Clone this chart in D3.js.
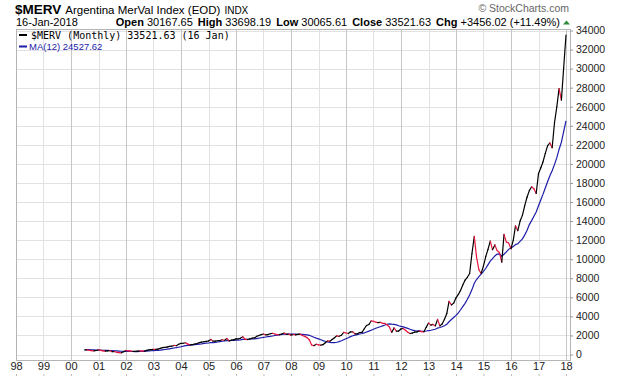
<!DOCTYPE html>
<html>
<head>
<meta charset="utf-8">
<script src="https://cdn.jsdelivr.net/npm/d3@7"></script>
<style>
  body { margin: 0; background: #fff; }
  svg { display: block; font-family: "Liberation Sans", Arial, sans-serif; }
</style>
</head>
<body>
<svg id="chart" width="620" height="376"></svg>
<script>
// first monthly bar is Jul 2000, last is Jan 2018 (16 Jan)
const firstYear = 2000, firstMonth = 6;

// $MERV monthly closes
const closes = [
  /* 2000 */ 470, 480, 440, 400, 390, 420,
  /* 2001 */ 480, 430, 380, 360, 390, 400, 300, 310, 230, 200, 180, 290,
  /* 2002 */ 420, 380, 370, 330, 340, 350, 380, 370, 360, 440, 480, 520,
  /* 2003 */ 540, 530, 560, 640, 720, 750, 770, 850, 870, 950, 920, 1070,
  /* 2004 */ 1170, 1180, 1230, 1090, 1010, 1040, 1100, 1150, 1240, 1290, 1340, 1375,
  /* 2005 */ 1420, 1580, 1400, 1410, 1440, 1470, 1550, 1480, 1680, 1420, 1500, 1540,
  /* 2006 */ 1640, 1650, 1710, 1860, 1620, 1570, 1630, 1710, 1740, 1900, 1990, 2090,
  /* 2007 */ 2150, 2060, 2080, 2180, 2230, 2150, 2090, 2080, 2150, 2250, 2110, 2150,
  /* 2008 */ 2030, 2100, 2060, 2120, 2140, 2000, 1900, 1770, 1550, 1000, 930, 1080,
  /* 2009 */ 1010, 980, 1030, 1240, 1420, 1400, 1580, 1760, 1960, 1910, 2020, 2320,
  /* 2010 */ 2260, 2200, 2380, 2380, 2160, 2180, 2310, 2320, 2700, 3050, 3150, 3520,
  /* 2011 */ 3490, 3390, 3350, 3380, 3270, 3260, 3120, 2870, 2330, 2790, 2460, 2460,
  /* 2012 */ 2680, 2730, 2540, 2340, 2200, 2250, 2350, 2360, 2480, 2400, 2380, 2850,
  /* 2013 */ 3300, 3080, 3160, 3000, 3680, 3000, 3200, 3700, 4310, 5580, 5200, 5390,
  /* 2014 */ 5950, 6300, 6700, 7300, 7800, 8100, 8500, 10600, 12400, 10200, 8900, 8500,
  /* 2015 */ 9300, 10300, 11000, 11900, 11000, 11500, 10900, 10700, 9700, 12600, 11800, 11700,
  /* 2016 */ 11100, 12000, 13500, 13000, 14000, 14600, 15600, 16500, 17200, 17600, 17400, 16900,
  /* 2017 */ 19000, 19600, 20200, 21100, 21900, 22200, 21700, 24300, 26000, 27900, 26700, 30065,
  /* 2018 */ 33521.63
];

// MA(12) of the closes, as drawn
const ma12 = [
  /* 2000 */ 509, 509, 504, 494, 483, 472,
  /* 2001 */ 465, 456, 443, 432, 428, 420, 406, 392, 374, 357, 340, 329,
  /* 2002 */ 324, 320, 319, 316, 312, 308, 315, 320, 331, 351, 376, 395,
  /* 2003 */ 405, 418, 433, 459, 491, 524, 557, 597, 639, 682, 718, 764,
  /* 2004 */ 817, 871, 927, 964, 988, 1013, 1040, 1065, 1096, 1124, 1159, 1185,
  /* 2005 */ 1205, 1239, 1253, 1280, 1315, 1351, 1389, 1416, 1453, 1464, 1477, 1491,
  /* 2006 */ 1509, 1515, 1541, 1578, 1593, 1602, 1608, 1628, 1633, 1673, 1713, 1759,
  /* 2007 */ 1802, 1836, 1867, 1893, 1944, 1993, 2031, 2062, 2096, 2125, 2135, 2140,
  /* 2008 */ 2130, 2133, 2132, 2127, 2119, 2107, 2091, 2065, 2015, 1911, 1813, 1723,
  /* 2009 */ 1638, 1545, 1459, 1386, 1326, 1276, 1249, 1248, 1283, 1358, 1449, 1553,
  /* 2010 */ 1657, 1758, 1871, 1966, 2028, 2093, 2153, 2200, 2262, 2357, 2451, 2551,
  /* 2011 */ 2653, 2753, 2833, 2917, 3009, 3099, 3167, 3213, 3182, 3160, 3103, 3014,
  /* 2012 */ 2947, 2892, 2824, 2738, 2648, 2564, 2500, 2458, 2470, 2438, 2431, 2463,
  /* 2013 */ 2515, 2544, 2596, 2651, 2774, 2837, 2908, 3019, 3172, 3437, 3672, 3883,
  /* 2014 */ 4104, 4373, 4668, 5026, 5369, 5794, 6236, 6811, 7485, 7870, 8178, 8438,
  /* 2015 */ 8717, 9050, 9408, 9792, 10058, 10342, 10542, 10550, 10325, 10525, 10767, 11033,
  /* 2016 */ 11183, 11325, 11533, 11625, 11875, 12133, 12525, 13008, 13633, 14050, 14517, 14950,
  /* 2017 */ 15608, 16242, 16800, 17475, 18133, 18767, 19275, 19925, 20658, 21517, 22292, 23389,
  /* 2018 */ 24527.62
];

const yearLabels = ["98","99","00","01","02","03","04","05","06","07","08",
                    "09","10","11","12","13","14","15","16","17","18"];
const priceTicks = [0, 2000, 4000, 6000, 8000, 10000, 12000, 14000, 16000,
                    18000, 20000, 22000, 24000, 26000, 28000, 30000, 32000, 34000];

const svg = d3.select("#chart");
const L = 16, R = 570, T = 29, B = 360;

const x = d3.scaleTime()
  .domain([new Date(1998, 0, 1), new Date(2018, 0, 1)])
  .range([16, 566]);
const y = d3.scaleLinear()
  .domain([0, 34000])
  .range([354.5, 30.5]);

const monthDate = i => new Date(firstYear, firstMonth + i, 1);
const yearDates = yearLabels.map((d, i) => new Date(1998 + i, 0, 1));

// grid
svg.append("g")
  .selectAll("line")
  .data(priceTicks)
  .enter().append("line")
    .attr("x1", L).attr("x2", R)
    .attr("y1", d => Math.round(y(d)) + 0.5)
    .attr("y2", d => Math.round(y(d)) + 0.5)
    .attr("stroke", "#e2e2e2");

svg.append("g")
  .selectAll("line")
  .data(yearDates.slice(1))
  .enter().append("line")
    .attr("x1", d => Math.round(x(d)) + 0.5)
    .attr("x2", d => Math.round(x(d)) + 0.5)
    .attr("y1", T).attr("y2", B)
    .attr("stroke", d => d.getFullYear() % 2 == 0 ? "#c6c6c6" : "#e2e2e2");

svg.append("rect")
  .attr("x", L + 0.5).attr("y", T + 0.5)
  .attr("width", R - L).attr("height", B - T)
  .attr("fill", "none")
  .attr("stroke", "#b4b4b4");

// axes
const yAxis = svg.append("g")
  .attr("transform", `translate(${R},0)`)
  .call(d3.axisRight(y).tickValues(priceTicks).tickSize(3).tickPadding(3).tickFormat(d3.format("d")));
yAxis.select(".domain").remove();
yAxis.selectAll("line").attr("stroke", "#999");
yAxis.selectAll("text").attr("font-size", "10.5px").attr("fill", "#222")
  .attr("font-family", '"Liberation Sans", Arial, sans-serif');

const xAxis = svg.append("g")
  .attr("transform", `translate(0,${B})`)
  .call(d3.axisBottom(x).tickValues(yearDates).tickSize(0).tickPadding(2)
    .tickFormat((d, i) => yearLabels[i]));
xAxis.select(".domain").remove();
xAxis.selectAll("text").attr("font-size", "11px").attr("fill", "#222")
  .attr("font-family", '"Liberation Sans", Arial, sans-serif');
xAxis.selectAll(".tick").append("line")
  .attr("y1", 14).attr("y2", 16)
  .attr("stroke", "#bbb");

// MA(12)
svg.append("path")
  .datum(ma12)
  .attr("fill", "none")
  .attr("stroke", "#1c1ca8")
  .attr("stroke-width", 1.2)
  .attr("d", d3.line()
    .x((d, i) => x(monthDate(i)))
    .y(d => y(d)));

// price, black on up months, red on down months
const segs = d3.range(1, closes.length);
svg.append("g")
  .selectAll("line")
  .data(segs)
  .enter().append("line")
    .attr("x1", i => x(monthDate(i - 1)))
    .attr("y1", i => y(closes[i - 1]))
    .attr("x2", i => x(monthDate(i)))
    .attr("y2", i => y(closes[i]))
    .attr("stroke", i => closes[i] >= closes[i - 1] ? "#000" : "#e6163e")
    .attr("stroke-width", 1.2)
    .attr("stroke-linecap", "round");

// header
const head = svg.append("g").attr("fill", "#000");
const t1 = head.append("text").attr("x", 15).attr("y", 14);
t1.append("tspan").attr("font-weight", "bold").attr("font-size", "13.5px").text("$MERV");
t1.append("tspan").attr("font-size", "11.5px").attr("dx", 4).text("Argentina MerVal Index (EOD)");
t1.append("tspan").attr("font-size", "10px").attr("dx", 4).text("INDX");

head.append("text").attr("x", 16).attr("y", 26).attr("font-size", "11px").text("16-Jan-2018");

const quote = [["Open", "30167.65"], ["High", "33698.19"], ["Low", "30065.61"],
               ["Close", "33521.63"], ["Chg", "+3456.02 (+11.49%)"]];
const t2 = head.append("text").attr("x", 560).attr("y", 26)
  .attr("text-anchor", "end").attr("font-size", "11px");
quote.forEach((q, i) => {
  t2.append("tspan").attr("font-weight", "bold").attr("dx", i ? 5 : 0).text(q[0] + " ");
  t2.append("tspan").text(q[1]);
});
svg.append("path")
  .attr("d", "M563,24.5 L566.5,20.5 L570,24.5 Z")
  .attr("fill", "#2e8b3a");

svg.append("text").attr("x", 569).attr("y", 12)
  .attr("text-anchor", "end").attr("font-size", "10.5px").attr("fill", "#666")
  .text("\u00a9 StockCharts.com");

// legend
svg.append("line").attr("x1", 19).attr("x2", 27).attr("y1", 35).attr("y2", 35)
  .attr("stroke", "#000").attr("stroke-width", 2);
svg.append("text").attr("x", 31).attr("y", 38.5)
  .attr("font-family", '"DejaVu Sans Mono", monospace').attr("font-size", "10px")
  .text("$MERV (Monthly) 33521.63 (16 Jan)");
svg.append("line").attr("x1", 19).attr("x2", 27).attr("y1", 46.5).attr("y2", 46.5)
  .attr("stroke", "#1c1ca8").attr("stroke-width", 2);
svg.append("text").attr("x", 29).attr("y", 49.8)
  .attr("font-size", "9.5px").attr("fill", "#1c1ca8")
  .text("MA(12) 24527.62");
</script>
</body>
</html>
